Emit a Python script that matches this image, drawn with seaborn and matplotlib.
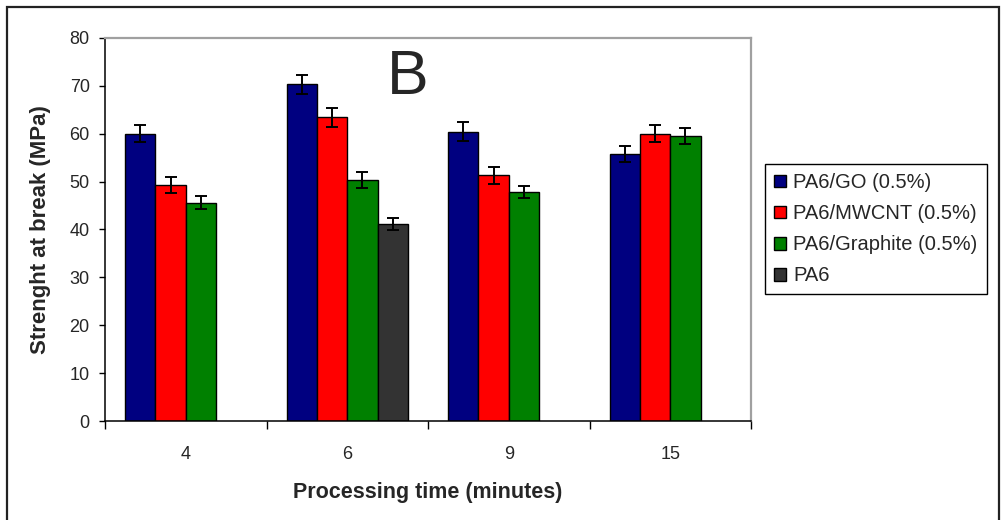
import matplotlib
matplotlib.use("Agg")
import matplotlib.pyplot as plt
from matplotlib.patches import Rectangle
from matplotlib.ticker import FixedLocator, NullFormatter
import seaborn as sns
import pandas as pd

# Processing times (minutes) and tensile strength at break (MPa)
times = ["4", "6", "9", "15"]
materials = ["PA6/GO (0.5%)", "PA6/MWCNT (0.5%)", "PA6/Graphite (0.5%)", "PA6"]
go_vals = [60.0, 70.3, 60.4, 55.7]
mwcnt_vals = [49.3, 63.4, 51.3, 60.0]
graphite_vals = [45.6, 50.4, 47.8, 59.5]
pa6_vals = [None, 41.1, None, None]
go_err = [1.8, 2.0, 2.0, 1.7]
mwcnt_err = [1.6, 1.9, 1.8, 1.8]
graphite_err = [1.3, 1.7, 1.3, 1.6]
pa6_err = [None, 1.2, None, None]
colors = ["#000080", "#FF0000", "#008000", "#333333"]

values = [go_vals, mwcnt_vals, graphite_vals, pa6_vals]
errors = [go_err, mwcnt_err, graphite_err, pa6_err]

rows = []
for mat, vals, errs in zip(materials, values, errors):
    for t, v, e in zip(times, vals, errs):
        if v is not None:
            rows.append({"time": t, "material": mat, "strength": v, "err": e})
df = pd.DataFrame(rows)

sns.set_theme(style="white")
plt.rcParams["font.family"] = ["Liberation Sans", "DejaVu Sans"]

fig = plt.figure(figsize=(10.01, 5.2), dpi=100)
ax = fig.add_axes([105 / 1001, 1 - 421 / 520, (751 - 105) / 1001, (421 - 38) / 520])

sns.barplot(data=df, x="time", y="strength", hue="material",
            order=times, hue_order=materials, palette=colors,
            width=0.75, edgecolor="black", linewidth=1.0,
            errorbar=None, saturation=1, ax=ax)

# Error bars placed on each bar's centre
for mat, container in zip(materials, ax.containers):
    sub = df[df["material"] == mat].set_index("time")
    for patch in container.patches:
        xc = patch.get_x() + patch.get_width() / 2
        t = times[int(round(xc))]
        ax.errorbar(xc, sub.loc[t, "strength"], yerr=sub.loc[t, "err"],
                    fmt="none", ecolor="black", elinewidth=1.4,
                    capsize=4, capthick=1.4, zorder=5)

ax.set_ylim(0, 80)
ax.set_xlim(-0.5, 3.5)
ax.set_yticks(range(0, 81, 10))
ax.tick_params(axis="y", which="major", direction="out", length=4, width=1,
               color="black", labelsize=13, pad=7, left=True)
ax.tick_params(axis="x", which="major", length=0, labelsize=13, pad=18)
ax.xaxis.set_minor_locator(FixedLocator([-0.5, 0.5, 1.5, 2.5, 3.5]))
ax.xaxis.set_minor_formatter(NullFormatter())
ax.tick_params(axis="x", which="minor", direction="out", length=6, width=1,
               color="black", bottom=True)

for side in ["left", "bottom"]:
    ax.spines[side].set_color("black")
    ax.spines[side].set_linewidth(1.1)
for side in ["top", "right"]:
    ax.spines[side].set_color("#a0a0a0")
    ax.spines[side].set_linewidth(1.6)

ax.set_xlabel("Processing time (minutes)", fontsize=15.5, fontweight="bold", labelpad=14)
ax.set_ylabel("Strenght at break (MPa)", fontsize=16, fontweight="bold", labelpad=13)

handles, labels = ax.get_legend_handles_labels()
ax.legend(handles, labels, loc="upper left",
          bbox_to_anchor=(765 / 1001, 1 - 164 / 520), bbox_transform=fig.transFigure,
          frameon=True, fancybox=False, edgecolor="black", framealpha=1,
          fontsize=14.5, handlelength=0.6, handleheight=0.6, handletextpad=0.35,
          labelspacing=0.6, borderpad=0.45, borderaxespad=0)
ax.get_legend().get_frame().set_linewidth(1.0)

fig.text(408 / 1001, 1 - 77 / 520, "B", ha="center", va="center", fontsize=45)

# Outer frame around the figure
fig.patches.append(Rectangle((7 / 1001, -0.05), (999 - 7) / 1001, 1.05 - 7 / 520,
                             transform=fig.transFigure, fill=False,
                             edgecolor="#222222", linewidth=1.6, clip_on=False))

fig.savefig("out.png", dpi=100)
